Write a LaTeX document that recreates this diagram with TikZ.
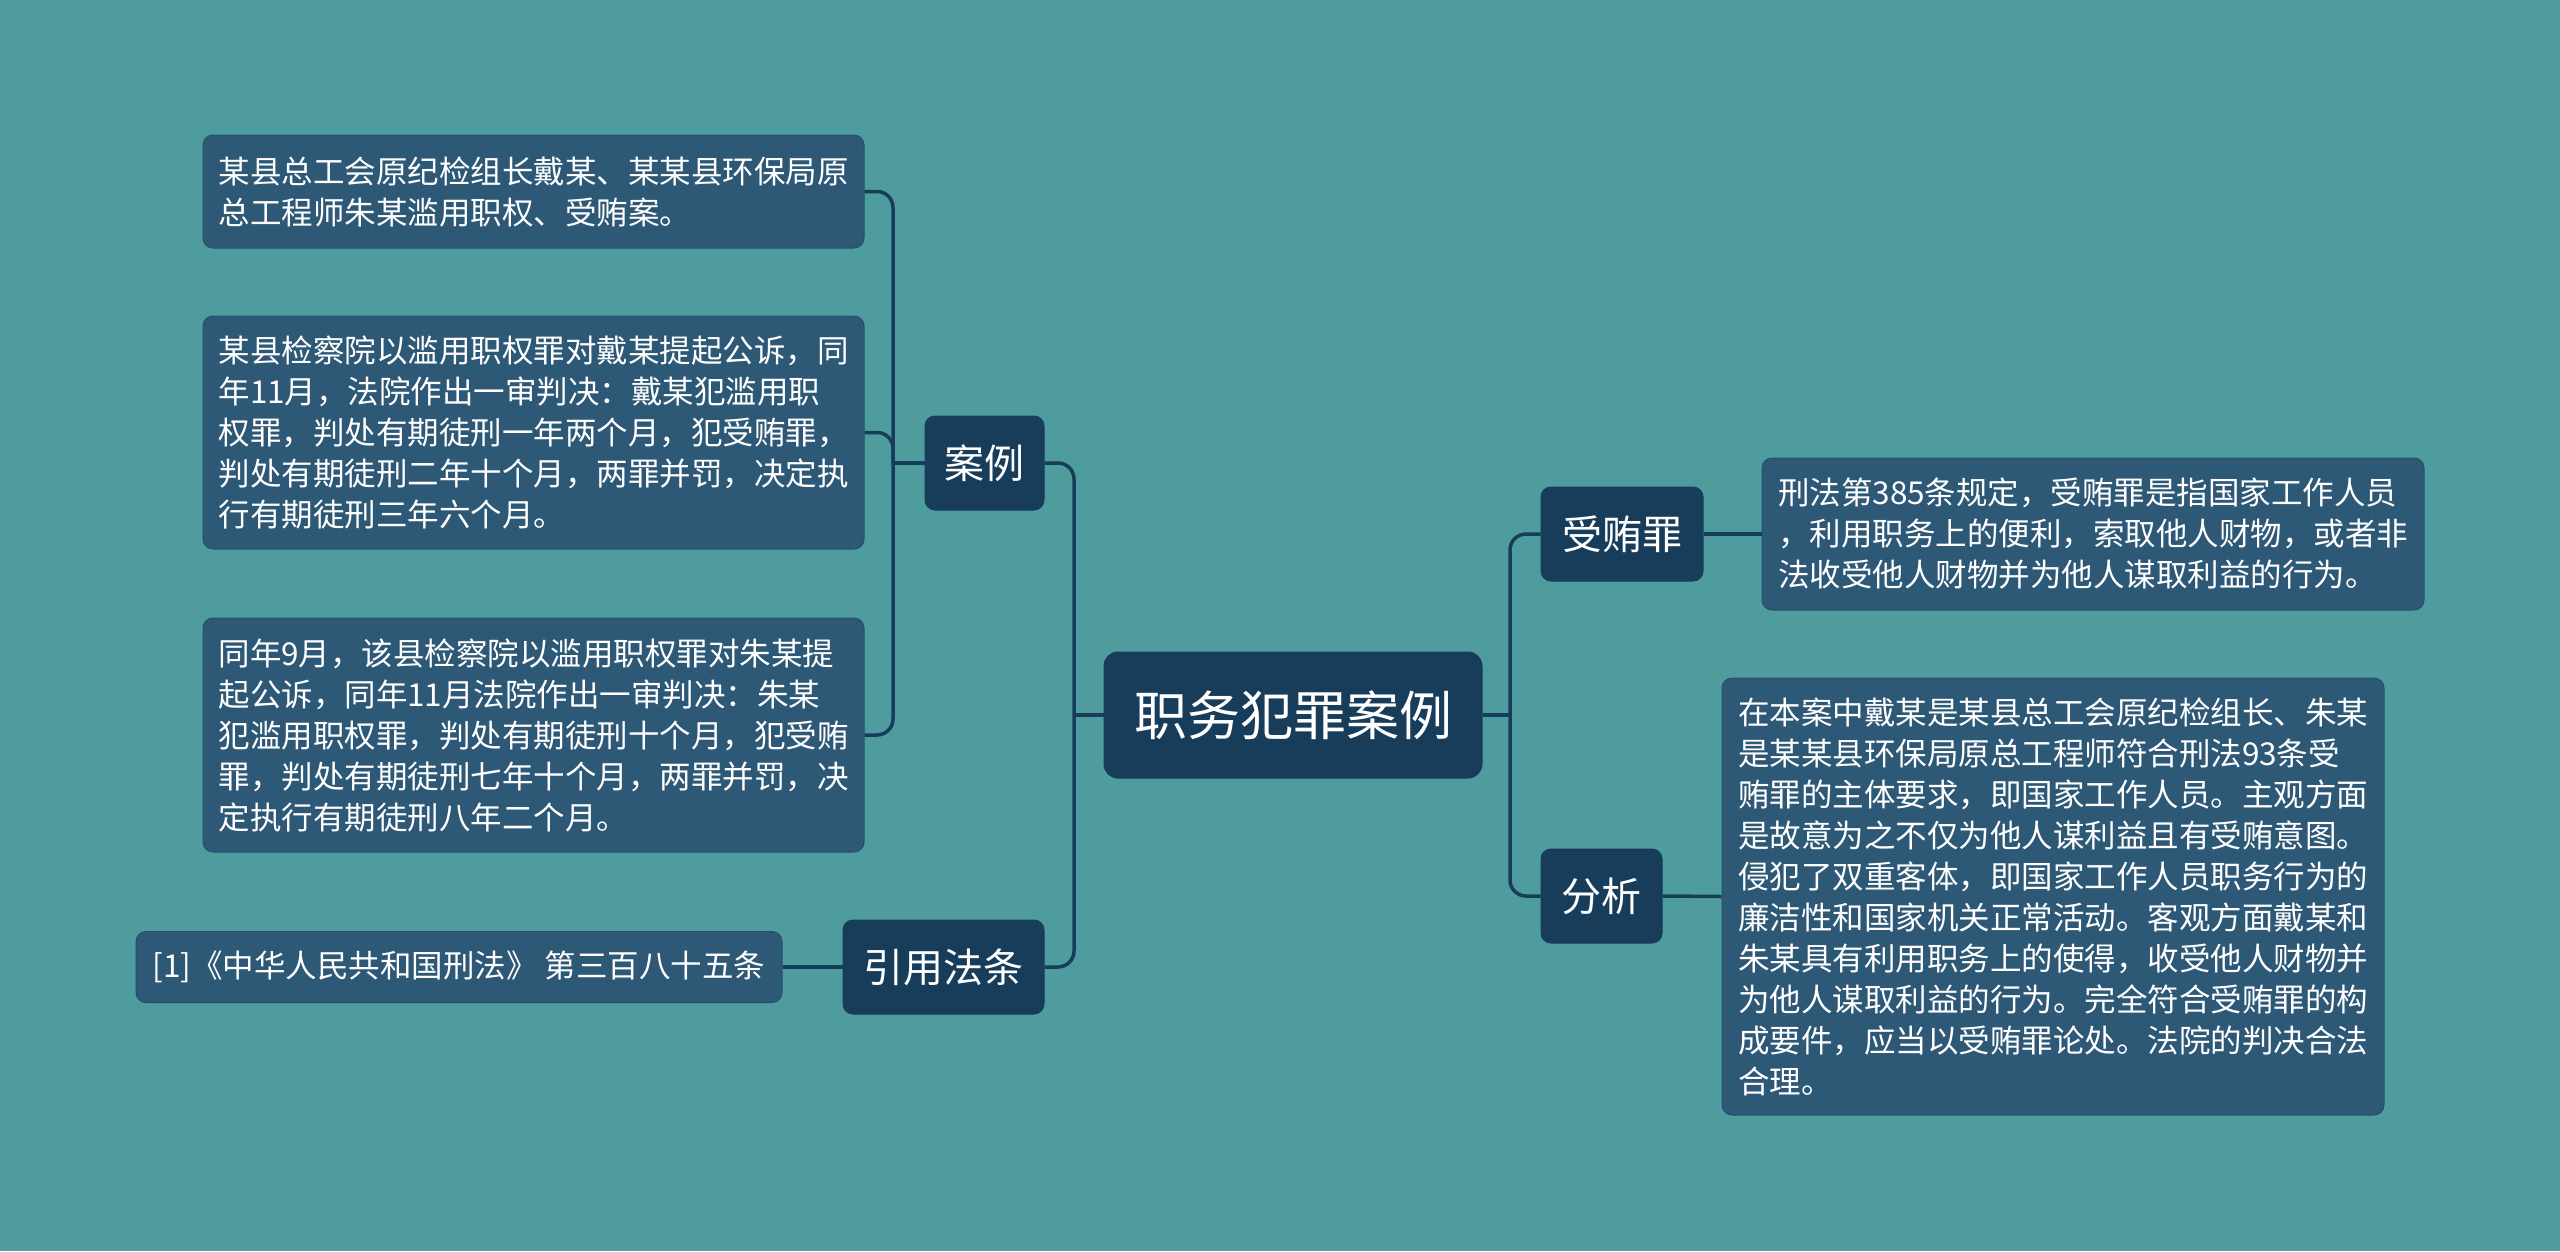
\documentclass[tikz,border=0pt]{standalone}
\usepackage{fontspec}
\setmainfont{Noto Sans CJK SC}
\definecolor{bg}{HTML}{4E9C9D}
\definecolor{leaffill}{HTML}{2D5876}
\definecolor{leafedge}{HTML}{274F6B}
\definecolor{topicfill}{HTML}{173D5B}
\definecolor{linecol}{HTML}{173D5B}
\tikzset{
  leafbox/.style={draw=leafedge, line width=1pt, fill=leaffill, rounded corners=10pt, text=white, align=left, inner sep=0pt, font=\fontsize{31.5}{41}\selectfont},
  topicbox/.style={draw=topicfill, line width=1pt, fill=topicfill, rounded corners=10pt, text=white, inner sep=0pt, font=\fontsize{40}{48}\selectfont},
  rootbox/.style={draw=topicfill, line width=1pt, fill=topicfill, rounded corners=14pt, text=white, inner sep=0pt, font=\fontsize{53}{60}\selectfont},
  conn/.style={draw=linecol, line width=3.5pt, rounded corners=16pt}
}
\begin{document}
\begin{tikzpicture}[x=1pt,y=-1pt]
\fill[bg] (0,0) rectangle (2560,1251);
\useasboundingbox (0,0) rectangle (2560,1251);

% nodes
\node[rootbox, minimum width=378pt, minimum height=126pt] (root) at (1293,715) {职务犯罪案例};
\node[topicbox, minimum width=119pt, minimum height=94pt] (anli) at (984.5,463) {案例};
\node[topicbox, minimum width=201pt, minimum height=94pt] (yinyong) at (943.5,967) {引用法条};
\node[topicbox, minimum width=162pt, minimum height=94pt] (shouhui) at (1622,534) {受贿罪};
\node[topicbox, minimum width=121pt, minimum height=94pt] (fenxi) at (1601.5,896) {分析};

\node[leafbox, minimum width=661pt, minimum height=113pt] (l1) at (533.5,191.5) {某县总工会原纪检组长戴某、某某县环保局原\\总工程师朱某滥用职权、受贿案。};
\node[leafbox, minimum width=661pt, minimum height=233pt] (l2) at (533.5,432.5) {某县检察院以滥用职权罪对戴某提起公诉，同\\年11月，法院作出一审判决：戴某犯滥用职\\权罪，判处有期徒刑一年两个月，犯受贿罪，\\判处有期徒刑二年十个月，两罪并罚，决定执\\行有期徒刑三年六个月。};
\node[leafbox, minimum width=661pt, minimum height=234pt] (l3) at (533.5,735) {同年9月，该县检察院以滥用职权罪对朱某提\\起公诉，同年11月法院作出一审判决：朱某\\犯滥用职权罪，判处有期徒刑十个月，犯受贿\\罪，判处有期徒刑七年十个月，两罪并罚，决\\定执行有期徒刑八年二个月。};
\node[leafbox, minimum width=646pt, minimum height=71pt] (l4) at (459,967) {[1]《中华人民共和国刑法》 第三百八十五条};
\node[leafbox, minimum width=662pt, minimum height=152pt] (ls) at (2093,534) {刑法第385条规定，受贿罪是指国家工作人员\\，利用职务上的便利，索取他人财物，或者非\\法收受他人财物并为他人谋取利益的行为。};
\node[leafbox, minimum width=662pt, minimum height=437pt] (lf) at (2053,896.5) {在本案中戴某是某县总工会原纪检组长、朱某\\是某某县环保局原总工程师符合刑法93条受\\贿罪的主体要求，即国家工作人员。主观方面\\是故意为之不仅为他人谋利益且有受贿意图。\\侵犯了双重客体，即国家工作人员职务行为的\\廉洁性和国家机关正常活动。客观方面戴某和\\朱某具有利用职务上的使得，收受他人财物并\\为他人谋取利益的行为。完全符合受贿罪的构\\成要件，应当以受贿罪论处。法院的判决合法\\合理。};

% trunk coordinates
\coordinate (tl) at (1074,715);
\coordinate (tr) at (1510,715);
\coordinate (la) at (893,463);

% connectors
\draw[conn] (root.west) -- (tl);
\draw[conn] (tl) |- (anli.east);
\draw[conn] (tl) |- (yinyong.east);
\draw[conn] (root.east) -- (tr);
\draw[conn] (tr) |- (shouhui.west);
\draw[conn] (tr) |- (fenxi.west);
\draw[conn] (anli.west) -- (la);
\draw[conn] (la) |- (l1.east);
\draw[conn] (la) |- (l2.east);
\draw[conn] (la) |- (l3.east);
\draw[conn] (yinyong.west) -- (l4.east);
\draw[conn] (shouhui.east) -- (ls.west);
\draw[conn] (fenxi.east) -- (lf.west);
\end{tikzpicture}
\end{document}
